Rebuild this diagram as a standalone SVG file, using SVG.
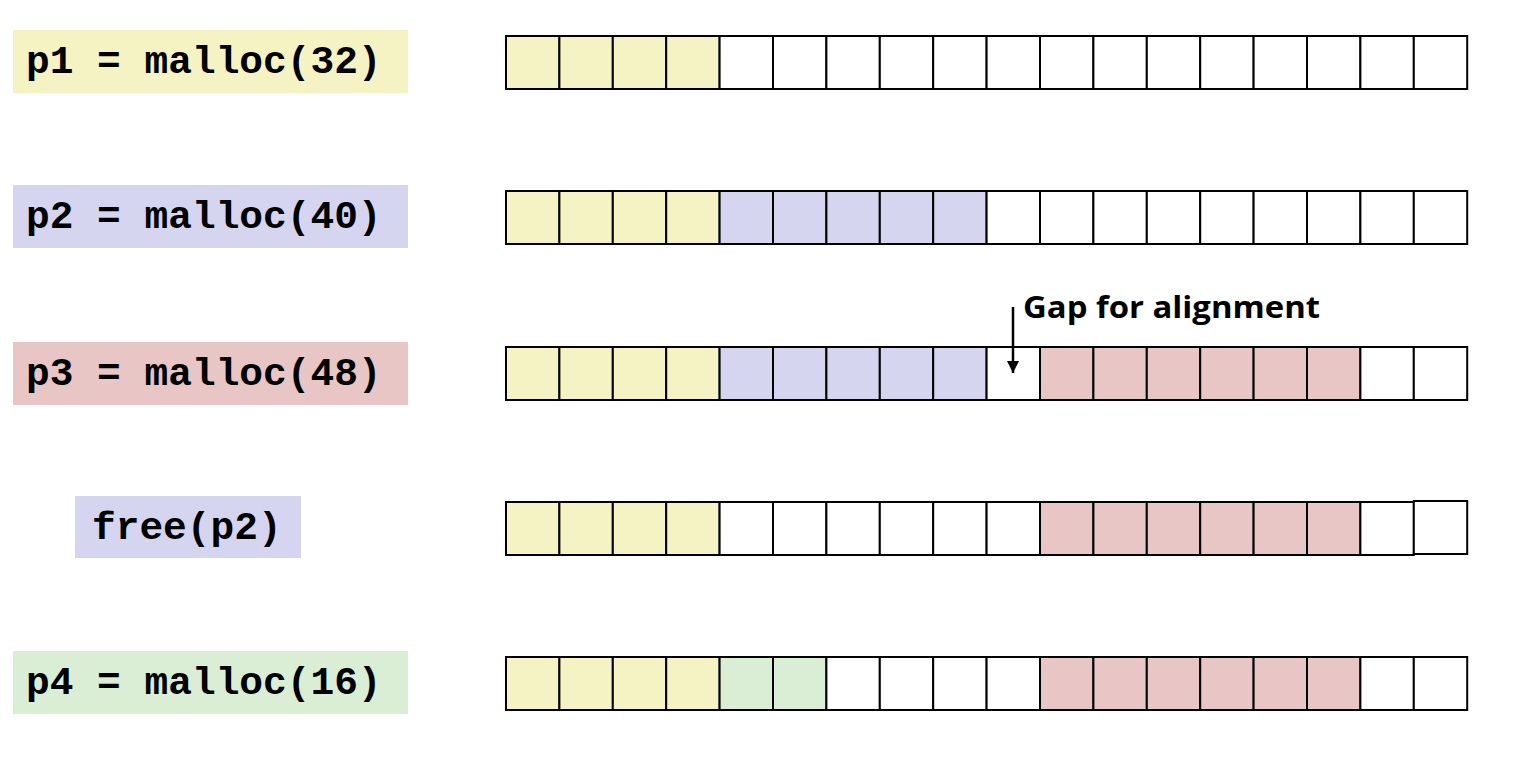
<svg xmlns="http://www.w3.org/2000/svg" width="1538" height="768" viewBox="0 0 1538 768">
<style>
.c{stroke:#000;stroke-width:2;}
.w{fill:#fff;}
.y{fill:#F5F3C4;}
.b{fill:#D6D5F0;}
.r{fill:#E8C6C5;}
.g{fill:#D9EED5;}
.lbl{font-family:"Liberation Mono","Courier New",monospace;font-weight:bold;font-size:39.5px;fill:#000;}
.note{font-family:"Open Sans","Liberation Sans",sans-serif;font-weight:bold;font-size:30px;fill:#000;}
</style>
<defs>
<marker id="ah" viewBox="0 0 12 12" refX="12" refY="6" markerWidth="12" markerHeight="12" markerUnits="userSpaceOnUse" orient="auto">
<path d="M0,0 L12,6 L0,12 Z" fill="#000"/>
</marker>
</defs>
<rect width="1538" height="768" fill="#fff"/>

<g id="label1"><rect x="13" y="30" width="395" height="63" class="y"/><text x="26" y="73" class="lbl">p1 = malloc(32)</text></g>
<g id="label2"><rect x="13" y="185" width="395" height="63" class="b"/><text x="26" y="228" class="lbl">p2 = malloc(40)</text></g>
<g id="label3"><rect x="13" y="342" width="395" height="63" class="r"/><text x="26" y="385" class="lbl">p3 = malloc(48)</text></g>
<g id="label4"><rect x="75" y="496" width="226" height="62" class="b"/><text x="92" y="539" class="lbl">free(p2)</text></g>
<g id="label5"><rect x="13" y="651" width="395" height="63" class="g"/><text x="26" y="694" class="lbl">p4 = malloc(16)</text></g>

<g id="row1">
<rect class="c y" x="506" y="36" width="53.4" height="53"/><rect class="c y" x="559.4" y="36" width="53.4" height="53"/><rect class="c y" x="612.8" y="36" width="53.4" height="53"/><rect class="c y" x="666.2" y="36" width="53.4" height="53"/>
<rect class="c w" x="719.6" y="36" width="53.4" height="53"/><rect class="c w" x="773" y="36" width="53.4" height="53"/><rect class="c w" x="826.4" y="36" width="53.4" height="53"/><rect class="c w" x="879.8" y="36" width="53.4" height="53"/><rect class="c w" x="933.2" y="36" width="53.4" height="53"/><rect class="c w" x="986.6" y="36" width="53.4" height="53"/>
<rect class="c w" x="1040" y="36" width="53.4" height="53"/><rect class="c w" x="1093.4" y="36" width="53.4" height="53"/><rect class="c w" x="1146.8" y="36" width="53.4" height="53"/><rect class="c w" x="1200.2" y="36" width="53.4" height="53"/><rect class="c w" x="1253.6" y="36" width="53.4" height="53"/><rect class="c w" x="1307" y="36" width="53.4" height="53"/><rect class="c w" x="1360.4" y="36" width="53.4" height="53"/><rect class="c w" x="1413.8" y="36" width="53.4" height="53"/>
</g>

<g id="row2">
<rect class="c y" x="506" y="191" width="53.4" height="53"/><rect class="c y" x="559.4" y="191" width="53.4" height="53"/><rect class="c y" x="612.8" y="191" width="53.4" height="53"/><rect class="c y" x="666.2" y="191" width="53.4" height="53"/>
<rect class="c b" x="719.6" y="191" width="53.4" height="53"/><rect class="c b" x="773" y="191" width="53.4" height="53"/><rect class="c b" x="826.4" y="191" width="53.4" height="53"/><rect class="c b" x="879.8" y="191" width="53.4" height="53"/><rect class="c b" x="933.2" y="191" width="53.4" height="53"/><rect class="c w" x="986.6" y="191" width="53.4" height="53"/>
<rect class="c w" x="1040" y="191" width="53.4" height="53"/><rect class="c w" x="1093.4" y="191" width="53.4" height="53"/><rect class="c w" x="1146.8" y="191" width="53.4" height="53"/><rect class="c w" x="1200.2" y="191" width="53.4" height="53"/><rect class="c w" x="1253.6" y="191" width="53.4" height="53"/><rect class="c w" x="1307" y="191" width="53.4" height="53"/><rect class="c w" x="1360.4" y="191" width="53.4" height="53"/><rect class="c w" x="1413.8" y="191" width="53.4" height="53"/>
</g>

<g id="row3">
<rect class="c y" x="506" y="347" width="53.4" height="53"/><rect class="c y" x="559.4" y="347" width="53.4" height="53"/><rect class="c y" x="612.8" y="347" width="53.4" height="53"/><rect class="c y" x="666.2" y="347" width="53.4" height="53"/>
<rect class="c b" x="719.6" y="347" width="53.4" height="53"/><rect class="c b" x="773" y="347" width="53.4" height="53"/><rect class="c b" x="826.4" y="347" width="53.4" height="53"/><rect class="c b" x="879.8" y="347" width="53.4" height="53"/><rect class="c b" x="933.2" y="347" width="53.4" height="53"/><rect class="c w" x="986.6" y="347" width="53.4" height="53"/>
<rect class="c r" x="1040" y="347" width="53.4" height="53"/><rect class="c r" x="1093.4" y="347" width="53.4" height="53"/><rect class="c r" x="1146.8" y="347" width="53.4" height="53"/><rect class="c r" x="1200.2" y="347" width="53.4" height="53"/><rect class="c r" x="1253.6" y="347" width="53.4" height="53"/><rect class="c r" x="1307" y="347" width="53.4" height="53"/><rect class="c w" x="1360.4" y="347" width="53.4" height="53"/><rect class="c w" x="1413.8" y="347" width="53.4" height="53"/>
</g>

<g id="row4">
<rect class="c y" x="506" y="502" width="53.4" height="53"/><rect class="c y" x="559.4" y="502" width="53.4" height="53"/><rect class="c y" x="612.8" y="502" width="53.4" height="53"/><rect class="c y" x="666.2" y="502" width="53.4" height="53"/>
<rect class="c w" x="719.6" y="502" width="53.4" height="53"/><rect class="c w" x="773" y="502" width="53.4" height="53"/><rect class="c w" x="826.4" y="502" width="53.4" height="53"/><rect class="c w" x="879.8" y="502" width="53.4" height="53"/><rect class="c w" x="933.2" y="502" width="53.4" height="53"/><rect class="c w" x="986.6" y="502" width="53.4" height="53"/>
<rect class="c r" x="1040" y="502" width="53.4" height="53"/><rect class="c r" x="1093.4" y="502" width="53.4" height="53"/><rect class="c r" x="1146.8" y="502" width="53.4" height="53"/><rect class="c r" x="1200.2" y="502" width="53.4" height="53"/><rect class="c r" x="1253.6" y="502" width="53.4" height="53"/><rect class="c r" x="1307" y="502" width="53.4" height="53"/><rect class="c w" x="1360.4" y="502" width="53.4" height="53"/><rect class="c w" x="1413.8" y="501" width="53.4" height="53"/>
</g>

<g id="row5">
<rect class="c y" x="506" y="657" width="53.4" height="53"/><rect class="c y" x="559.4" y="657" width="53.4" height="53"/><rect class="c y" x="612.8" y="657" width="53.4" height="53"/><rect class="c y" x="666.2" y="657" width="53.4" height="53"/>
<rect class="c g" x="719.6" y="657" width="53.4" height="53"/><rect class="c g" x="773" y="657" width="53.4" height="53"/><rect class="c w" x="826.4" y="657" width="53.4" height="53"/><rect class="c w" x="879.8" y="657" width="53.4" height="53"/><rect class="c w" x="933.2" y="657" width="53.4" height="53"/><rect class="c w" x="986.6" y="657" width="53.4" height="53"/>
<rect class="c r" x="1040" y="657" width="53.4" height="53"/><rect class="c r" x="1093.4" y="657" width="53.4" height="53"/><rect class="c r" x="1146.8" y="657" width="53.4" height="53"/><rect class="c r" x="1200.2" y="657" width="53.4" height="53"/><rect class="c r" x="1253.6" y="657" width="53.4" height="53"/><rect class="c r" x="1307" y="657" width="53.4" height="53"/><rect class="c w" x="1360.4" y="657" width="53.4" height="53"/><rect class="c w" x="1413.8" y="657" width="53.4" height="53"/>
</g>

<g id="gap-note">
<text x="1023" y="318" class="note" textLength="297" lengthAdjust="spacingAndGlyphs">Gap for alignment</text>
</g>

<g id="connectors">
<line x1="1013" y1="307" x2="1013" y2="373" stroke="#000" stroke-width="2.5" marker-end="url(#ah)"/>
</g>
</svg>
